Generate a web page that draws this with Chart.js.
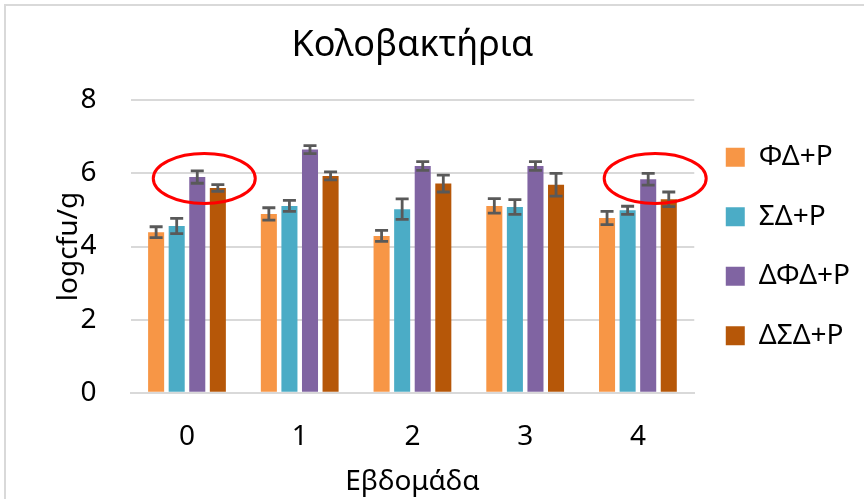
<!DOCTYPE html>
<html>
<head>
<meta charset="utf-8">
<script src="https://cdn.jsdelivr.net/npm/chart.js@4.4.1/dist/chart.umd.min.js"></script>
<style>
    html, body { margin: 0; padding: 0; background: #fff; overflow: hidden; }
    #frame { position: absolute; left: 4px; top: 4px; width: 900px; height: 520px; border: 2px solid #d9d9d9; }
    #wrap { position: absolute; left: 0; top: 0; width: 864px; height: 499px; }
</style>
</head>
<body>
<div id="frame"></div>
<div id="wrap"><canvas id="bar-chart" width="864" height="499"></canvas></div>
<script>
    // Data
    var weeks = ["0", "1", "2", "3", "4"];
    var seriesNames = ["ΦΔ+P", "ΣΔ+P", "ΔΦΔ+P", "ΔΣΔ+P"];
    var fdP = [4.39, 4.89, 4.29, 5.11, 4.78];
    var sdP = [4.56, 5.11, 5.02, 5.08, 4.99];
    var dfdP = [5.90, 6.65, 6.20, 6.20, 5.84];
    var dsdP = [5.60, 5.93, 5.72, 5.69, 5.29];
    var fdErr = [0.15, 0.17, 0.15, 0.20, 0.18];
    var sdErr = [0.21, 0.15, 0.28, 0.20, 0.11];
    var dfdErr = [0.17, 0.11, 0.12, 0.12, 0.16];
    var dsdErr = [0.09, 0.11, 0.23, 0.31, 0.20];
    var yTicks = [0, 2, 4, 6, 8];
    var circledWeeks = [0, 4];
    var circledLevel = 5.86;

    var colors = ["#F79646", "#4BACC6", "#8064A2", "#B65708"];
    var values = [fdP, sdP, dfdP, dsdP];
    var errors = [fdErr, sdErr, dfdErr, dsdErr];

    Chart.defaults.font.family = "'Noto Sans', 'DejaVu Sans', sans-serif";
    Chart.defaults.color = "#111";

    // Error bars
    var errorBars = {
        id: "errorBars",
        afterDatasetsDraw: function (chart) {
            var ctx = chart.ctx;
            var y = chart.scales.y;
            ctx.save();
            ctx.strokeStyle = "#595959";
            ctx.lineWidth = 2.8;
            chart.data.datasets.forEach(function (ds, i) {
                var meta = chart.getDatasetMeta(i);
                meta.data.forEach(function (bar, j) {
                    var top = y.getPixelForValue(ds.data[j] + ds.errors[j]);
                    var bot = y.getPixelForValue(ds.data[j] - ds.errors[j]);
                    ctx.beginPath();
                    ctx.moveTo(bar.x, top); ctx.lineTo(bar.x, bot);
                    ctx.moveTo(bar.x - 6.5, top); ctx.lineTo(bar.x + 6.5, top);
                    ctx.moveTo(bar.x - 6.5, bot); ctx.lineTo(bar.x + 6.5, bot);
                    ctx.stroke();
                });
            });
            ctx.restore();
        }
    };

    // Red ellipses
    var circles = {
        id: "circles",
        afterDraw: function (chart) {
            var ctx = chart.ctx;
            var purple = chart.getDatasetMeta(2);
            var y = chart.scales.y;
            ctx.save();
            ctx.strokeStyle = "#FF0000";
            ctx.lineWidth = 3;
            circledWeeks.forEach(function (w) {
                var cx = purple.data[w].x + 7;
                var cy = y.getPixelForValue(circledLevel);
                ctx.beginPath();
                ctx.ellipse(cx, cy, 51, 25, 0, 0, Math.PI * 2);
                ctx.stroke();
            });
            ctx.restore();
        }
    };

    var ctx = document.getElementById("bar-chart").getContext("2d");
    var myChart = new Chart(ctx, {
        type: "bar",
        data: {
            labels: weeks,
            datasets: seriesNames.map(function (name, i) {
                return {
                    label: name,
                    data: values[i],
                    errors: errors[i],
                    backgroundColor: colors[i],
                    categoryPercentage: 0.73,
                    barPercentage: 0.78
                };
            })
        },
        options: {
            responsive: false,
            animation: false,
            layout: { padding: { left: 20, right: 4, top: 6, bottom: 0 } },
            plugins: {
                title: {
                    display: true,
                    text: "Κολοβακτήρια",
                    fullSize: false,
                    color: "#000",
                    font: { size: 36, weight: "normal" },
                    padding: { top: 18, bottom: 33 }
                },
                legend: {
                    position: "right",
                    fullSize: false,
                    labels: {
                        boxWidth: 19,
                        boxHeight: 19,
                        padding: 31.5,
                        color: "#000",
                        font: { size: 28 }
                    }
                },
                tooltip: { enabled: false }
            },
            scales: {
                x: {
                    grid: { display: false },
                    border: { color: "#d9d9d9", width: 2 },
                    ticks: { font: { size: 28 }, color: "#000", padding: 19.5 },
                    title: { display: true, text: "Εβδομάδα", color: "#000", font: { size: 28 }, padding: { top: -8, bottom: 0 } }
                },
                y: {
                    min: 0,
                    max: 8,
                    afterBuildTicks: function (axis) {
                        axis.ticks = yTicks.map(function (v) { return { value: v }; });
                    },
                    grid: { color: "#d9d9d9", lineWidth: 2, drawTicks: false },
                    border: { display: false },
                    ticks: { font: { size: 28 }, color: "#000", padding: 34 },
                    title: { display: true, text: "logcfu/g", color: "#000", font: { size: 28 }, padding: { top: 32, bottom: -39 } }
                }
            }
        },
        plugins: [errorBars, circles]
    });
</script>
</body>
</html>
